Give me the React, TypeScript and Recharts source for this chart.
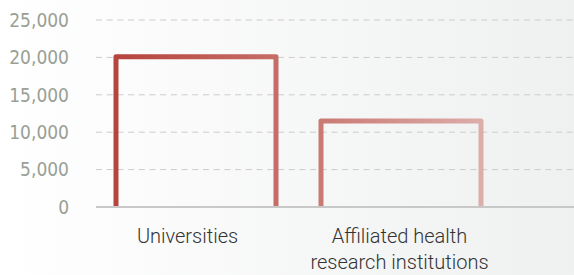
import React from "react";
import { BarChart, Bar, XAxis, YAxis, CartesianGrid } from "recharts";

const categories = ["Universities", "Affiliated health research institutions"];
const values = [20100, 11500];
const yTicks = [0, 5000, 10000, 15000, 20000, 25000];
const xTickLines: Record<string, string[]> = {
  "Universities": ["Universities"],
  "Affiliated health research institutions": ["Affiliated health", "research institutions"],
};
const xTickShift = [-8, -1];

const data = categories.map((c, i) => ({ name: c, value: values[i] }));

const OpenBar = (props: any) => {
  const { x, y, width, height } = props;
  return (
    <path
      d={`M${x},${y + height} L${x},${y} L${x + width},${y} L${x + width},${y + height}`}
      fill="none"
      stroke="url(#barGrad)"
      strokeWidth={5}
      strokeLinejoin="round"
    />
  );
};

const XTick = (props: any) => {
  const { x, y, payload, index } = props;
  const lines = xTickLines[payload.value] || [payload.value];
  const dx = xTickShift[index] ?? 0;
  return (
    <g>
      {lines.map((l, i) => (
        <text
          key={i}
          x={x + dx}
          y={y + 28 + i * 26}
          textAnchor="middle"
          fill="#333333"
          fontFamily="Roboto"
          fontWeight={300}
          fontSize={20}
        >
          {l}
        </text>
      ))}
    </g>
  );
};

const fmt = (v: number) => v.toLocaleString("en-US");

export default function App() {
  return (
    <div
      style={{
        position: "absolute",
        left: 0,
        top: 0,
        width: 574,
        height: 275,
        background: "linear-gradient(to right, #ffffff 0%, #eff0f0 100%)",
      }}
    >
      <BarChart
        width={574}
        height={275}
        data={data}
        margin={{ top: 20, right: 0, bottom: 7, left: 0 }}
      >
        <defs>
          <linearGradient id="barGrad" gradientUnits="userSpaceOnUse" x1={113} y1={0} x2={483} y2={0}>
            <stop offset="0%" stopColor="#b5443c" />
            <stop offset="50%" stopColor="#c8726c" />
            <stop offset="100%" stopColor="#dcaeaa" />
          </linearGradient>
        </defs>
        <CartesianGrid vertical={false} stroke="#cccccc" strokeDasharray="6 4.7" />
        <XAxis
          dataKey="name"
          height={61}
          padding={{ left: -3, right: 71 }}
          axisLine={{ stroke: "#c8c8c8", strokeWidth: 2 }}
          tickLine={false}
          tick={<XTick />}
          interval={0}
        />
        <YAxis
          width={96}
          domain={[0, 25000]}
          ticks={yTicks}
          axisLine={false}
          tickLine={false}
          tickSize={0}
          tickMargin={27}
          tickFormatter={fmt}
          tick={{ fill: "#9aa095", fontSize: 19, fontFamily: "DejaVu Sans Condensed, DejaVu Sans" , fontStretch: "condensed"}}
        />
        <Bar dataKey="value" barSize={160} shape={<OpenBar />} isAnimationActive={false} />
      </BarChart>
    </div>
  );
}
